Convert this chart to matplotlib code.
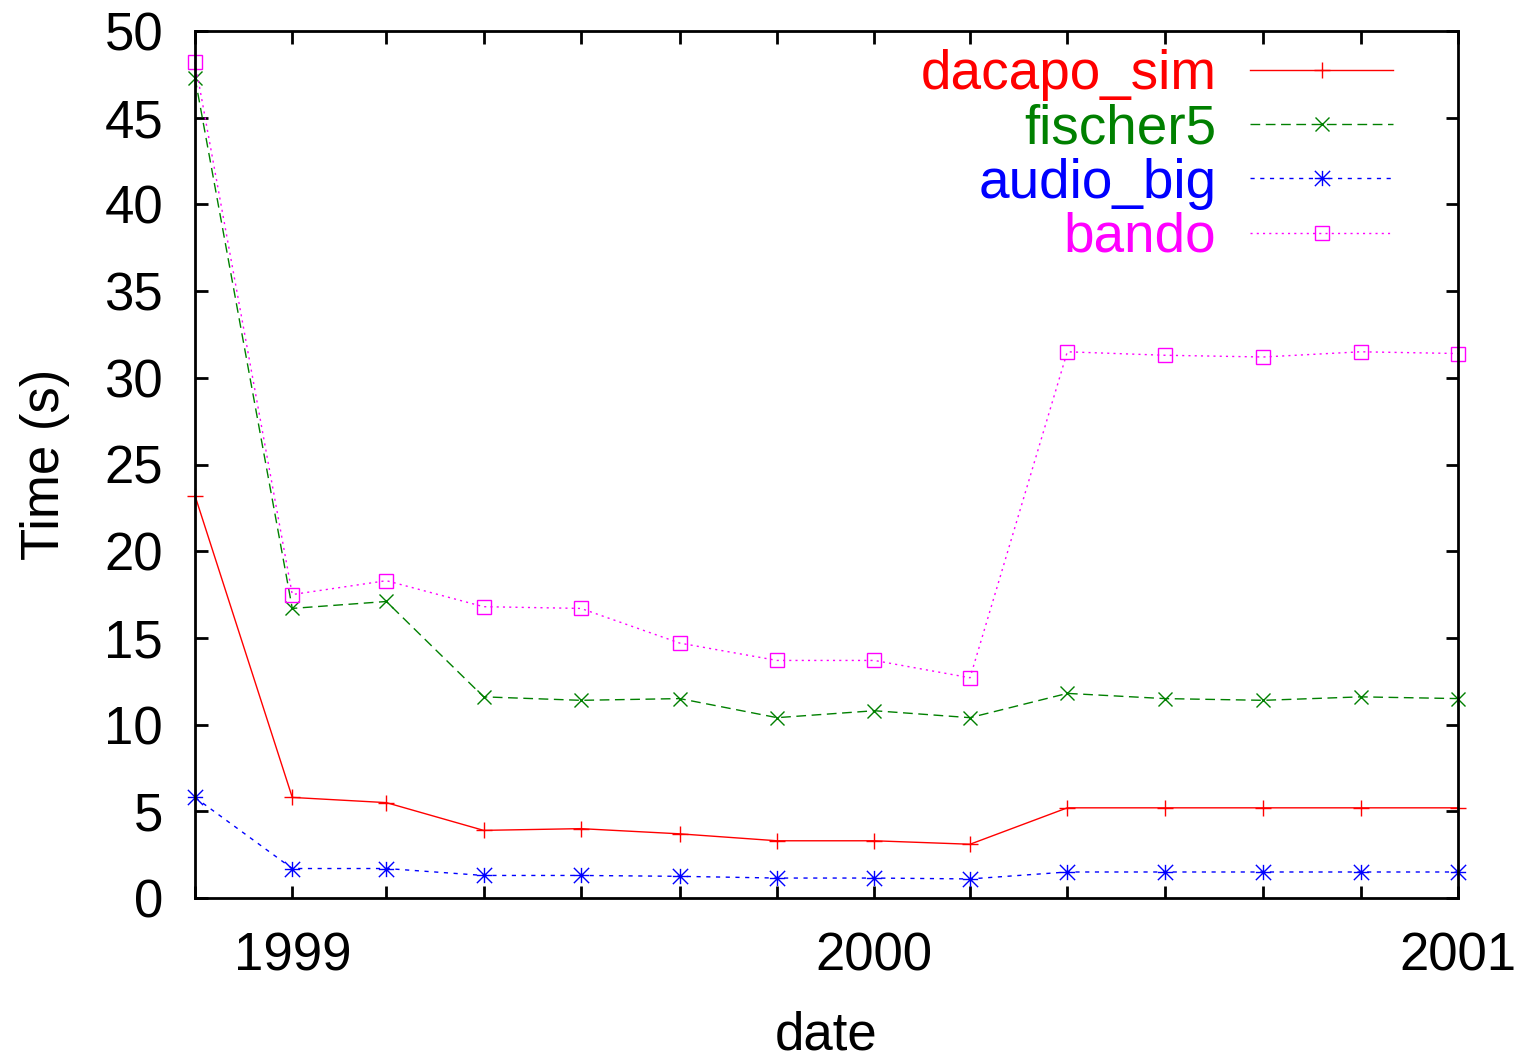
import datetime as dt

import matplotlib
matplotlib.use("Agg")
import matplotlib.pyplot as plt
import matplotlib.dates as mdates
from matplotlib.path import Path
import matplotlib.ticker as mticker

# sample dates: every two months, Nov 1998 .. Jan 2001
dates = [dt.date(1998, 11, 1), dt.date(1999, 1, 1), dt.date(1999, 3, 1),
         dt.date(1999, 5, 1), dt.date(1999, 7, 1), dt.date(1999, 9, 1),
         dt.date(1999, 11, 1), dt.date(2000, 1, 1), dt.date(2000, 3, 1),
         dt.date(2000, 5, 1), dt.date(2000, 7, 1), dt.date(2000, 9, 1),
         dt.date(2000, 11, 1), dt.date(2001, 1, 1)]

dacapo_sim = [23.2, 5.8, 5.5, 3.9, 4.0, 3.7, 3.3, 3.3, 3.1, 5.2, 5.2, 5.2, 5.2, 5.2]
fischer5 = [47.3, 16.7, 17.1, 11.6, 11.4, 11.5, 10.4, 10.8, 10.4, 11.8, 11.5, 11.4, 11.6, 11.5]
audio_big = [5.8, 1.7, 1.7, 1.3, 1.3, 1.25, 1.15, 1.15, 1.1, 1.5, 1.5, 1.5, 1.5, 1.5]
bando = [48.2, 17.5, 18.3, 16.8, 16.7, 14.7, 13.7, 13.7, 12.7, 31.5, 31.3, 31.2, 31.5, 31.4]

plt.rcParams["font.family"] = ["Liberation Sans", "DejaVu Sans"]
plt.rcParams["lines.scale_dashes"] = False

# gnuplot-style asterisk: plus and cross overlaid
star = Path([(-0.5, 0), (0.5, 0), (0, -0.5), (0, 0.5),
             (-0.5, -0.5), (0.5, 0.5), (-0.5, 0.5), (0.5, -0.5)],
            [Path.MOVETO, Path.LINETO] * 4)

FS = 38
fig = plt.figure(figsize=(15.18, 10.58), dpi=100)
ax = fig.add_axes([195 / 1518, 1 - 898 / 1058, (1458 - 195) / 1518, (898 - 31) / 1058])

ax.plot(dates, dacapo_sim, color="#ff0000", lw=1.0, ls="-", marker="+",
        ms=11, mew=1.0, label="dacapo_sim", clip_on=False)
ax.plot(dates, fischer5, color="#008000", lw=1.0, ls=(0, (7, 4)), marker="x",
        ms=10, mew=1.0, label="fischer5", clip_on=False)
ax.plot(dates, audio_big, color="#0000ff", lw=1.0, ls=(0, (3, 4)), marker=star,
        ms=11, mew=1.0, mfc="none", label="audio_big", clip_on=False)
ax.plot(dates, bando, color="#ff00ff", lw=1.0, ls=(0, (1.5, 3)), marker="s",
        ms=10, mew=1.0, mfc="none", label="bando", clip_on=False)

ax.set_xlim(dates[0], dates[-1])
ax.set_ylim(0, 50)
ax.yaxis.set_major_locator(mticker.MultipleLocator(5))
ax.xaxis.set_major_locator(mdates.MonthLocator(bymonth=[1, 3, 5, 7, 9, 11]))
ax.xaxis.set_major_formatter(mticker.FuncFormatter(
    lambda v, pos: str(mdates.num2date(v).year) if mdates.num2date(v).month == 1 else ""))

for s in ax.spines.values():
    s.set_linewidth(2.0)
ax.tick_params(direction="in", length=9, width=2.0, labelsize=FS,
               top=True, right=True)
ax.tick_params(axis="x", pad=24)
ax.tick_params(axis="y", pad=23)

ax.set_xlabel("date", fontsize=FS, labelpad=21)
ax.set_ylabel("Time (s)", fontsize=FS, labelpad=25)

leg = ax.legend(loc="upper right", bbox_to_anchor=(0.9485, 0.979),
                frameon=False, fontsize=39.5, markerfirst=False,
                handlelength=2.6, handletextpad=0.62, labelspacing=0.04,
                borderpad=0, borderaxespad=0, labelcolor="linecolor")

fig.savefig("out.png", dpi=100, facecolor="white")
